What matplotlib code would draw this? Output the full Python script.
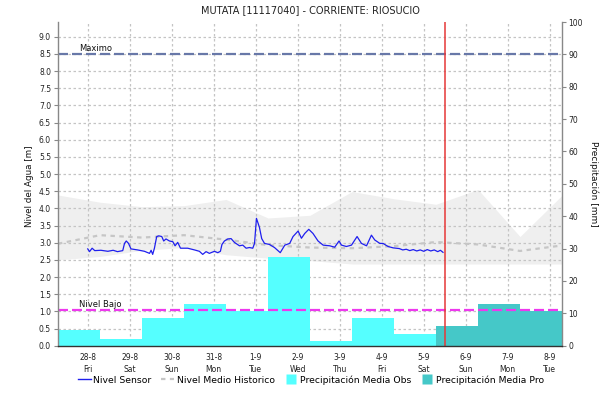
import matplotlib
matplotlib.use("Agg")
import matplotlib.pyplot as plt
from matplotlib.lines import Line2D
import numpy as np

# ---------------- data ----------------
day_labels = ['28-8', '29-8', '30-8', '31-8', '1-9', '2-9', '3-9', '4-9', '5-9', '6-9', '7-9', '8-9']
weekdays = ['Fri', 'Sat', 'Sun', 'Mon', 'Tue', 'Wed', 'Thu', 'Fri', 'Sat', 'Sun', 'Mon', 'Tue']

# daily precipitation [mm] (07:00 -> 07:00), observed then forecast
precip_obs = [4.9, 2.0, 8.6, 12.9, 10.7, 27.4, 1.5, 8.5, 3.6]
precip_pro = [6.1, 12.9, 10.8]

# historic level statistics [m] (hours since 28-8 00:00)
hist_hours = [-17, 7, 31, 55, 79, 103, 127, 151, 175, 199, 223, 247, 271]
hist_max = [4.39, 4.18, 4.05, 4.08, 4.26, 3.72, 3.80, 4.49, 4.28, 4.12, 4.55, 3.18, 4.38]
hist_min = [2.50, 2.60, 2.78, 2.86, 2.65, 2.55, 2.48, 2.38, 2.38, 2.38, 2.38, 2.38, 2.38]
hist_mean = [2.97, 3.22, 3.15, 3.22, 3.09, 2.93, 2.86, 2.84, 2.90, 3.02, 2.95, 2.76, 2.92]

# sensor level [m]
sensor_h = [0, 1, 2.5, 4, 7.5, 11.5, 14.5, 17, 20, 21, 22, 23.3, 24.7, 28.5, 32.4, 35.3, 36.2, 37.1,
            38.1, 39.4, 40.6, 42.3, 43.4, 44.7, 46.7, 48.6, 49.9, 51.4, 53, 57.1, 61, 63.8, 65.7, 67.6,
            69.5, 72.4, 74.3, 75.8, 76.7, 78.1, 80, 81.9, 83.8, 86.7, 88.6, 90.5, 92.4, 94.3, 95.3, 96.4,
            98.1, 99.4, 101, 103.8, 106.7, 110, 112.6, 115.4, 117.3, 120.2, 122.1, 124, 126.3, 128.7,
            131.6, 134.5, 138.3, 141.1, 143.6, 145, 147.8, 150.7, 153.9, 156.4, 159.3, 162.1, 164, 166.9,
            168.7, 171.6, 174.5, 178, 180, 182, 184, 186, 188, 190, 192, 194, 196, 198, 200, 201.5, 203]
sensor_m = [2.82, 2.74, 2.84, 2.77, 2.78, 2.75, 2.78, 2.74, 2.77, 2.98, 3.05, 2.98, 2.82, 2.79, 2.75, 2.69,
            2.78, 2.66, 2.84, 3.18, 3.20, 3.18, 3.05, 3.11, 3.05, 3.03, 2.91, 3.01, 2.84, 2.84, 2.79, 2.75,
            2.66, 2.74, 2.69, 2.75, 2.71, 2.75, 2.95, 3.05, 3.11, 3.12, 3.01, 2.91, 2.93, 2.84, 2.86, 2.84,
            2.98, 3.71, 3.45, 3.12, 2.98, 2.95, 2.86, 2.71, 2.93, 2.98, 3.18, 3.34, 3.13, 3.27, 3.39, 3.27,
            3.05, 2.93, 2.91, 2.87, 3.05, 2.93, 2.89, 2.93, 3.18, 2.98, 2.91, 3.22, 3.08, 2.98, 2.98, 2.89,
            2.85, 2.83, 2.79, 2.81, 2.77, 2.80, 2.76, 2.79, 2.75, 2.80, 2.76, 2.79, 2.74, 2.78, 2.72]

nivel_maximo = 8.5
nivel_bajo = 1.05
now_hour = 204
level_ticks = [0.0, 0.5, 1.0, 1.5, 2.0, 2.5, 3.0, 3.5, 4.0, 4.5, 5.0, 5.5, 6.0, 6.5, 7.0, 7.5, 8.0, 8.5, 9.0]
precip_ticks = [0, 10, 20, 30, 40, 50, 60, 70, 80, 90, 100]

# ---------------- figure ----------------
W, H = 616, 404
fig = plt.figure(figsize=(W / 100, H / 100), dpi=100)
fig.patch.set_facecolor('white')
L, R, T, B = 58, 562, 22, 345.7
rect = [L / W, 1 - B / H, (R - L) / W, (B - T) / H]

TICK_FS = 5.5
ax = fig.add_axes(rect)           # back: level scale, grid, band
ax_pr = ax.twinx()                # middle: precipitation bars
ax_top = fig.add_axes(rect, sharex=ax, sharey=ax)  # front: lines
ax_top.patch.set_visible(False)
ax_pr.patch.set_visible(False)

day_hours = [24 * i for i in range(len(day_labels))]
xmin, xmax = -17, 24 * (len(day_labels) - 1) + 7
ax.set_xlim(xmin, xmax)
ax.set_ylim(0, 9.43)
ax_pr.set_ylim(0, 100)

# band
ax.fill_between(hist_hours, hist_min, hist_max, color='#efefef', lw=0, zorder=1)
ax.grid(True, color='#c4c4c4', linestyle=(0, (2, 2)), linewidth=0.9)
ax.set_yticks(level_ticks)
ax.set_yticklabels([f'{v:.1f}' for v in level_ticks])
ax.set_xticks(day_hours)
ax.set_xticklabels([f'{d}\n{w}' for d, w in zip(day_labels, weekdays)])
for t in ax.get_xticklabels():
    t.set_linespacing(1.45)
ax.tick_params(axis='y', length=3, width=0.8, color='#888888', pad=2, labelsize=TICK_FS, labelcolor='#222222')
ax.tick_params(axis='x', length=0, pad=5, labelsize=TICK_FS, labelcolor='#222222')
for s in ax.spines.values():
    s.set_visible(False)

# precipitation bars
obs_left = [h - 17 for h in day_hours[:len(precip_obs)]]
pro_left = [h - 17 for h in day_hours[len(precip_obs):]]
ax_pr.bar(obs_left, precip_obs, width=24, align='edge', color='#55ffff', lw=0)
ax_pr.bar(pro_left, precip_pro, width=24, align='edge', color='#45c8c8', lw=0)
ax_pr.set_yticks(precip_ticks)
ax_pr.tick_params(axis='y', length=3, width=0.8, color='#888888', pad=1.5, labelsize=TICK_FS, labelcolor='#222222')
for s in ax_pr.spines.values():
    s.set_visible(False)

# front lines
ax_top.plot(hist_hours, hist_mean, color='#c6c6c6', lw=1.6, linestyle=(0, (2, 2)))
ax_top.plot(sensor_h, sensor_m, color='#1f1fee', lw=0.9)
ax_top.axhline(nivel_maximo, color='#6878a8', lw=1.6, linestyle=(0, (4.5, 1.8)))
ax_top.axhline(nivel_bajo, color='#ee38ee', lw=1.6, linestyle=(0, (4.5, 1.8)))
ax_top.axvline(now_hour, color='#e63838', lw=1.1)
ax_top.text(-5, nivel_maximo + 0.02, 'Maximo', fontsize=6, va='bottom', ha='left', color='#111111')
ax_top.text(-5, nivel_bajo + 0.02, 'Nivel Bajo', fontsize=6, va='bottom', ha='left', color='#111111')
ax_top.tick_params(left=False, bottom=False, labelleft=False, labelbottom=False)
ax_top.spines['top'].set_visible(False)
ax_top.spines['left'].set_color('#888888')
ax_top.spines['right'].set_color('#888888')
ax_top.spines['left'].set_linewidth(1.0)
ax_top.spines['right'].set_linewidth(1.0)
ax_top.spines['bottom'].set_color('#333333')
ax_top.spines['bottom'].set_linestyle((0, (1, 1)))
ax_top.spines['bottom'].set_linewidth(1.0)

# texts
fig.text(310 / W, 1 - 10 / H, 'MUTATA [11117040] - CORRIENTE: RIOSUCIO', ha='center', va='center',
         fontsize=7, color='#222222')
fig.text(30 / W, 1 - 186 / H, 'Nivel del Agua [m]', rotation=90, ha='center', va='center',
         fontsize=6.3, color='#111111')
fig.text(594 / W, 1 - 184 / H, 'Precipitación [mm]', rotation=270, ha='center', va='center',
         fontsize=6.5, color='#111111')

handles = [
    Line2D([], [], color='#1f1fee', lw=1.0),
    Line2D([], [], color='#c6c6c6', lw=1.6, linestyle=(0, (2, 2))),
    Line2D([], [], marker='s', color='none', markerfacecolor='#55ffff', markeredgecolor='none', markersize=7),
    Line2D([], [], marker='s', color='none', markerfacecolor='#45c8c8', markeredgecolor='none', markersize=7),
]
labels = ['Nivel Sensor', 'Nivel Medio Historico', 'Precipitación Media Obs', 'Precipitación Media Pro']
fig.legend(handles, labels, loc='center', bbox_to_anchor=(311 / W, 1 - 380 / H), ncol=4, frameon=False,
           fontsize=6.7, handlelength=1.4, handletextpad=0.3, columnspacing=1.0)

fig.savefig('out.png', dpi=100, facecolor='white')
